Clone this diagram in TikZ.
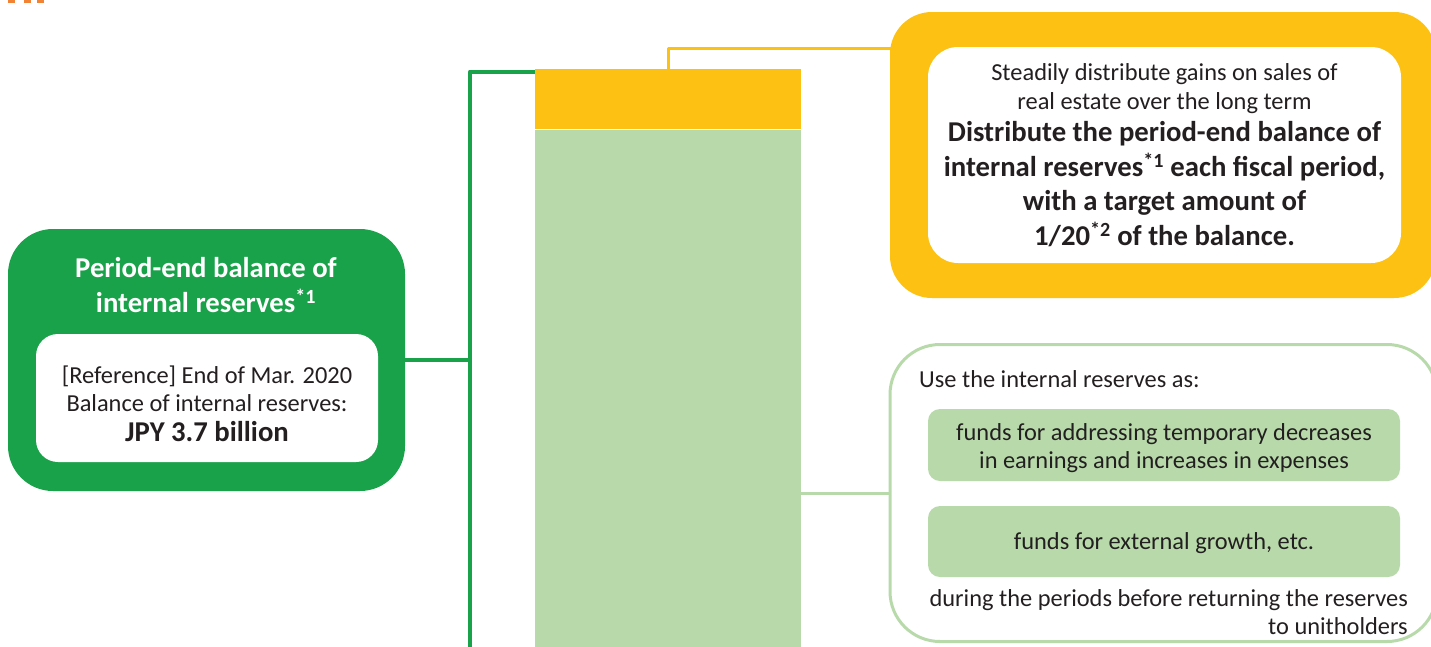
\documentclass[tikz,border=0pt]{standalone}
\usepackage{fontspec}
\setmainfont{Carlito}
\usetikzlibrary{calc}

\definecolor{resgreen}{RGB}{26,162,74}
\definecolor{resyellow}{RGB}{252,193,18}
\definecolor{reslight}{RGB}{184,218,170}
\definecolor{restext}{RGB}{35,31,32}
\definecolor{resorange}{RGB}{242,130,52}

\begin{document}
\begin{tikzpicture}[x=1pt, y=-1pt, line join=round]
  \tikzset{
    txt/.style={inner sep=0pt, text=restext, font=\fontsize{24.4}{28}\selectfont},
    boldtxt/.style={inner sep=0pt, text=restext, font=\fontsize{28.7}{34.5}\selectfont\bfseries},
    panel/.style={inner sep=0pt, rounded corners=#1},
    gline/.style={line width=4pt, draw=resgreen},
    yline/.style={line width=3pt, draw=resyellow},
    lline/.style={line width=3pt, draw=reslight}
  }
  \useasboundingbox (0,0) rectangle (1431,646);

  % Cut-off heading mark
  \foreach \x in {8,24,37}
    \fill[resorange] (\x,0) rectangle ++(7,3);

  % Period-end balance box (left)
  \node[panel=45pt, fill=resgreen, minimum width=397pt, minimum height=262pt] (balance) at (206.5, 360) {};
  \node[boldtxt, text=white, align=center] (baltitle) at (206, 285) {Period-end balance of\\internal reserves\textsuperscript{*1}};
  \node[panel=22pt, fill=white, minimum width=342pt, minimum height=128pt] (refbox) at (207, 398) {};
  \node[txt, align=center] (reftext) at (207, 404) {[Reference] End of Mar. 2020\\Balance of internal reserves:\\[2pt]{\fontsize{28.7}{28}\selectfont\bfseries JPY 3.7 billion}};

  % Bar: gains on sales (top) and internal reserves
  \node[inner sep=0pt, fill=resyellow, minimum width=266pt, minimum height=60pt, anchor=north west] (gainsbar) at (535, 69) {};
  \node[inner sep=0pt, fill=reslight, minimum width=266pt, minimum height=540pt, anchor=north] (resbar) at (gainsbar.south) {};

  % Bracket from balance box to bar
  \coordinate (brkbot) at (470, 660);
  \draw[gline] ($(gainsbar.north west)+(0,2.5)$) -| (brkbot);
  \draw[gline] (balance.east) -- (balance.east -| brkbot);

  % Distribution policy box (top right)
  \node[panel=42pt, fill=resyellow, minimum width=546pt, minimum height=286pt] (gains) at (1163, 155) {};
  \node[panel=30pt, fill=white, minimum width=473pt, minimum height=216pt] (gainsin) at (1164.5, 155) {};
  \node[boldtxt, align=center] (gainstext) at (1164.5, 155) {{\mdseries\fontsize{24.4}{28}\selectfont Steadily distribute gains on sales of}\\[-5.5pt]{\mdseries\fontsize{24.4}{28}\selectfont real estate over the long term}\\[-2.5pt]Distribute the period-end balance of\\internal reserves\textsuperscript{*1} each fiscal period,\\with a target amount of\\1/20\textsuperscript{*2} of the balance.};

  \coordinate (ytap) at (668, 69);
  \draw[yline] (ytap) |- ($(gains.north west)+(3,37)$);

  % Use of internal reserves box (bottom right)
  \node[panel=50pt, draw=reslight, line width=3pt, minimum width=547pt, minimum height=297pt] (usebox) at (1163.5, 493) {};
  \node[txt, anchor=west] (uselead) at (919, 379) {Use the internal reserves as:};
  \node[panel=12pt, fill=reslight, minimum width=472pt, minimum height=72pt] (fundone) at (1164, 445) {};
  \node[txt, align=center] (fundonetext) at (1164, 448) {funds for addressing temporary decreases\\in earnings and increases in expenses};
  \node[txt, panel=12pt, fill=reslight, minimum width=472pt, minimum height=71pt] (fundtwo) at (1164, 541.5) {};
  \node[txt] (fundtwotext) at (1164, 543.5) {funds for external growth, etc.};
  \node[txt, align=right, anchor=north east] (usetail) at (1408, 589) {during the periods before returning the reserves\\to unitholders};

  \draw[lline] (resbar.east |- usebox.west) -- (usebox.west);

\end{tikzpicture}
\end{document}
